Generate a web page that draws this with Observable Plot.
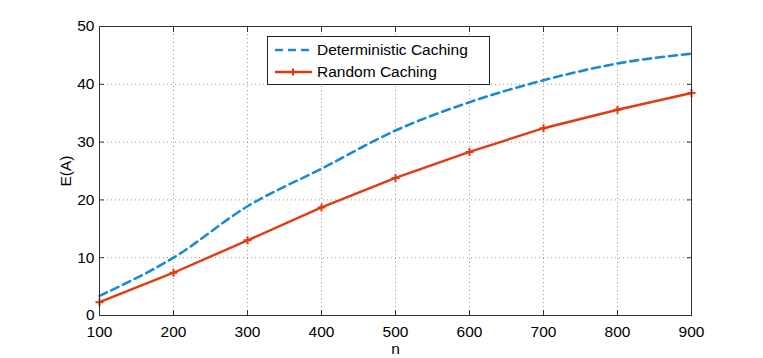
<!DOCTYPE html>
<html>
<head>
<meta charset="utf-8">
<script src="https://cdn.jsdelivr.net/npm/d3@7"></script>
<script src="https://cdn.jsdelivr.net/npm/@observablehq/plot@0.6"></script>
<style>
  html, body { margin: 0; padding: 0; background: #fff; }
  #wrap { position: relative; width: 763px; height: 358px; font-family: "Liberation Sans", Arial, sans-serif; }
  #legend { position: absolute; left: 267px; top: 36px; width: 221px; height: 47px; border: 1px solid #222; background: #fff; font-size: 15.5px; color: #000; }
  .row { position: absolute; left: 6px; height: 20px; display: flex; align-items: center; }
  .row svg { margin-right: 5px; }
</style>
</head>
<body>
<div id="wrap"></div>
<script>
const nValues = [100, 200, 300, 400, 500, 600, 700, 800, 900];
const deterministic = [3.4, 10.0, 18.9, 25.4, 32.0, 36.9, 40.7, 43.6, 45.3];
const random = [2.3, 7.4, 13.0, 18.7, 23.8, 28.3, 32.4, 35.6, 38.5];
const xTicks = [100, 200, 300, 400, 500, 600, 700, 800, 900];
const yTicks = [0, 10, 20, 30, 40, 50];
const seriesNames = ["Deterministic Caching", "Random Caching"];
const colors = ["#1b8ad6", "#e03c12"];

const detData = nValues.map((n, i) => ({n, v: deterministic[i]}));
const rndData = nValues.map((n, i) => ({n, v: random[i]}));

const plusSymbol = {
  draw(context, size) {
    const r = Math.sqrt(size / Math.PI);
    context.moveTo(-r, 0); context.lineTo(r, 0);
    context.moveTo(0, -r); context.lineTo(0, r);
  }
};

const gridStyle = {stroke: "#999", strokeOpacity: 1, strokeDasharray: "1,3", strokeWidth: 1};

const chart = Plot.plot({
  width: 763,
  height: 358,
  marginLeft: 99,
  marginRight: 72,
  marginTop: 26,
  marginBottom: 43,
  style: {fontFamily: "'Liberation Sans', Arial, sans-serif", fontSize: "15.5px", background: "#fff", color: "#000"},
  x: {domain: [100, 900]},
  y: {domain: [0, 50]},
  marks: [
    Plot.gridX(xTicks, gridStyle),
    Plot.gridY(yTicks, gridStyle),
    Plot.line(detData, {x: "n", y: "v", stroke: colors[0], strokeWidth: 2.6, strokeDasharray: "8,5", curve: "monotone-x"}),
    Plot.line(rndData, {x: "n", y: "v", stroke: colors[1], strokeWidth: 2.4}),
    Plot.dot(rndData, {x: "n", y: "v", symbol: plusSymbol, r: 4, stroke: colors[1], strokeWidth: 2, fill: "none"}),
    Plot.frame({stroke: "#333", strokeWidth: 1}),
    Plot.axisX(xTicks, {anchor: "bottom", tickSize: -5, tickPadding: 15, stroke: "#333", label: "n", labelAnchor: "center", labelOffset: 38, labelArrow: "none"}),
    Plot.axisX(xTicks, {anchor: "top", tickSize: -5, tickFormat: () => "", stroke: "#333", label: null}),
    Plot.axisY(yTicks, {anchor: "left", tickSize: -5, tickPadding: 10, stroke: "#333", label: "E(A)", labelAnchor: "center", labelOffset: 40, labelArrow: "none"}),
    Plot.axisY(yTicks, {anchor: "right", tickSize: -5, tickFormat: () => "", stroke: "#333", label: null})
  ]
});
const wrap = document.getElementById("wrap");
wrap.appendChild(chart);

const legend = document.createElement("div");
legend.id = "legend";
seriesNames.forEach((name, i) => {
  const row = document.createElement("div");
  row.className = "row";
  row.style.top = (i === 0 ? 3 : 25) + "px";
  const dash = i === 0 ? 'stroke-dasharray="8,5"' : '';
  const marker = i === 1 ? `<path d="M19,6.5V13.5M15.5,10H22.5" stroke="${colors[1]}" stroke-width="2"/>` : '';
  row.innerHTML = `<svg width="38" height="20"><line x1="1" y1="10" x2="38" y2="10" stroke="${colors[i]}" stroke-width="2.6" ${dash}/>${marker}</svg><span>${name}</span>`;
  legend.appendChild(row);
});
wrap.appendChild(legend);
</script>
</body>
</html>
